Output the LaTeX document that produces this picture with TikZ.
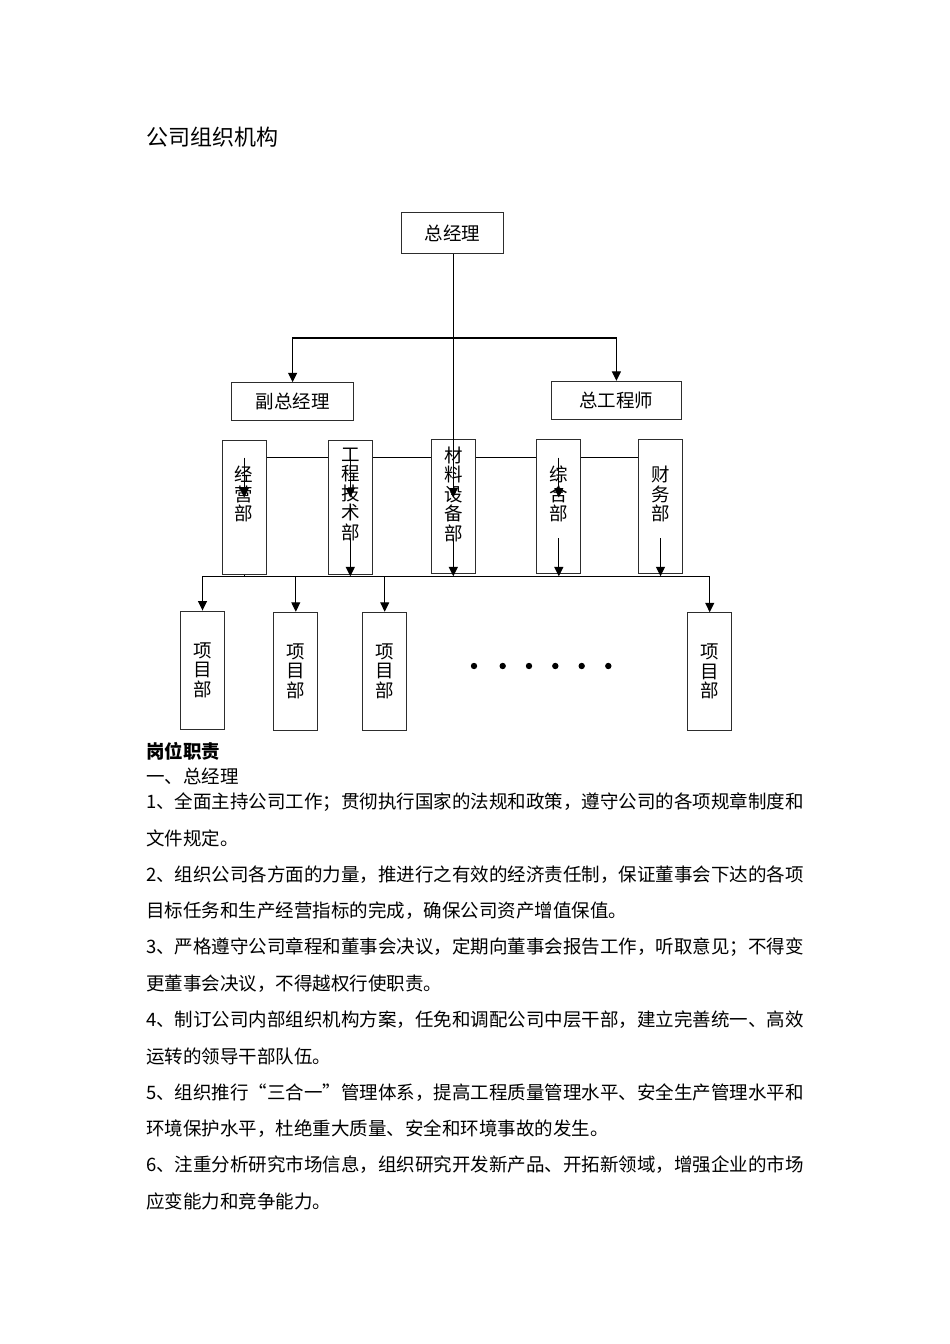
\documentclass[tikz,border=0pt]{standalone}
\usepackage{fontspec}
\newfontfamily\cjk{Noto Sans CJK SC}
\usetikzlibrary{arrows.meta}
\definecolor{boxline}{RGB}{45,45,45}

\begin{document}
\begin{tikzpicture}[
    x=1pt, y=-1pt,
    every node/.style = {font=\cjk\fontsize{18.5}{19.5}\selectfont},
    topn/.style       = {draw=boxline, fill=white, line width=0.9pt,
                         minimum height=38pt, inner sep=0pt},
    deptn/.style      = {draw=boxline, fill=white, line width=0.9pt,
                         minimum width=44pt, minimum height=134pt,
                         inner sep=0pt},
    projn/.style      = {draw=boxline, fill=white, line width=0.9pt,
                         minimum width=44pt, minimum height=118pt,
                         inner sep=0pt, align=center},
    deptlab/.style    = {align=center, inner sep=0pt},
    bodyt/.style      = {anchor=west, inner sep=0pt},
    edgeln/.style     = {draw=black, line width=1.2pt},
    arrln/.style      = {edgeln, -{Triangle[width=9pt,length=9.5pt]}}]

    \fill[white] (0,0) rectangle (950,1344);
    \useasboundingbox (0,0) rectangle (950,1344);

    % Title
    \node[bodyt, font=\cjk\fontsize{22}{24}\selectfont] (title) at (146,136.7) {公司组织机构};

    % Top level
    \node[topn, minimum width=102pt, minimum height=40.6pt] (zjl)  at (452.3,233)   {总经理};
    \node[topn, minimum width=122.5pt]                      (fzjl) at (292.6,401.7) {副总经理};
    \node[topn, minimum width=130pt]                        (zgcs) at (616.4,400.3) {总工程师};

    % Departments
    \node[deptn] (jyb)  at (244.2,507.3) {};
    \node[deptn] (gcjs) at (350.3,507.3) {};
    \node[deptn] (clsb) at (453.3,506.5) {};
    \node[deptn] (zhb)  at (558.8,506.5) {};
    \node[deptn] (cwb)  at (660.5,506.5) {};

    \node[deptlab] (jyt)  at (244.2,494) {经\\营\\部};
    \node[deptlab] (gcjt) at (350.3,494) {工\\程\\技\\术\\部};
    \node[deptlab] (clst) at (453.3,494) {材\\料\\设\\备\\部};
    \node[deptlab] (zht)  at (558.8,494) {综\\合\\部};
    \node[deptlab] (cwt)  at (660.5,494) {财\\务\\部};

    % Project departments
    \node[projn] (xm1) at (202.5,670)   {项\\目\\部};
    \node[projn] (xm2) at (295.8,671.2) {项\\目\\部};
    \node[projn] (xm3) at (384.7,671.2) {项\\目\\部};
    \node[projn] (xm4) at (709.7,671.7) {项\\目\\部};

    % Helper rows
    \coordinate (br)     at (453.3,338);
    \coordinate (hline)  at (0,457.7);
    \coordinate (midtip) at (0,497.5);
    \coordinate (lowtop) at (0,538);
    \coordinate (bus)    at (0,576.3);

    % Connectors
    \draw[arrln] (br) -| (fzjl);
    \draw[arrln] (br) -| (zgcs);
    \draw[arrln] (zjl.south -| clsb.center) -- (clsb.center |- midtip);

    \foreach \a/\b in {jyb/gcjs, gcjs/clsb, clsb/zhb, zhb/cwb}
      \draw[edgeln] (\a.east |- hline) -- (\b.west |- hline);

    \foreach \d in {jyb, gcjs, zhb}
      \draw[arrln] (\d.center |- hline) -- (\d.center |- midtip);
    \foreach \d in {gcjs, clsb, zhb, cwb}
      \draw[arrln] (\d.center |- lowtop) -- (\d.center |- bus);
    \draw[edgeln] (jyb.south) -- (jyb.center |- bus);

    \draw[edgeln] (xm1.north |- bus) -- (xm4.north |- bus);
    \foreach \p in {xm1, xm2, xm3, xm4}
      \draw[arrln] (\p.north |- bus) -- (\p);

    \foreach \x in {474, 502.7, 529, 555.3, 581.7, 608.3}
      \fill (\x,666) circle (3.2pt);

    % Duties
    \node[bodyt, font=\cjk\bfseries\fontsize{18.5}{19.5}\selectfont] (gwzz) at (146,751.5) {岗位职责};
    \node[bodyt] (zjlh) at (146,776.5) {一、总经理};
    \node[bodyt] (ln1)  at (146,802)    {1、全面主持公司工作；贯彻执行国家的法规和政策，遵守公司的各项规章制度和};
    \node[bodyt] (ln2)  at (146,838.3)  {文件规定。};
    \node[bodyt] (ln3)  at (146,874.6)  {2、组织公司各方面的力量，推进行之有效的经济责任制，保证董事会下达的各项};
    \node[bodyt] (ln4)  at (146,910.9)  {目标任务和生产经营指标的完成，确保公司资产增值保值。};
    \node[bodyt] (ln5)  at (146,947.2)  {3、严格遵守公司章程和董事会决议，定期向董事会报告工作，听取意见；不得变};
    \node[bodyt] (ln6)  at (146,983.5)  {更董事会决议，不得越权行使职责。};
    \node[bodyt] (ln7)  at (146,1019.8) {4、制订公司内部组织机构方案，任免和调配公司中层干部，建立完善统一、高效};
    \node[bodyt] (ln8)  at (146,1056.1) {运转的领导干部队伍。};
    \node[bodyt] (ln9)  at (146,1092.4) {5、组织推行“三合一”管理体系，提高工程质量管理水平、安全生产管理水平和};
    \node[bodyt] (ln10) at (146,1128.7) {环境保护水平，杜绝重大质量、安全和环境事故的发生。};
    \node[bodyt] (ln11) at (146,1165)   {6、注重分析研究市场信息，组织研究开发新产品、开拓新领域，增强企业的市场};
    \node[bodyt] (ln12) at (146,1201.3) {应变能力和竞争能力。};
  \end{tikzpicture}
\end{document}
